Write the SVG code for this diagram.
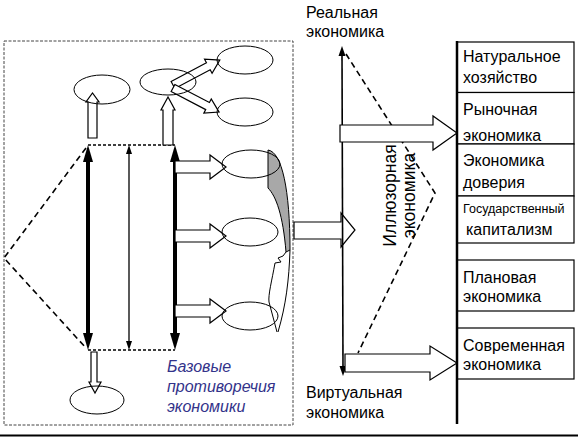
<svg xmlns="http://www.w3.org/2000/svg" width="581" height="437" viewBox="0 0 581 437">
<style>
text{font-family:"Liberation Sans",Arial,sans-serif;fill:#000;}
.t16{font-size:16px;}
.ell{fill:none;stroke:#000;stroke-width:1;}
.blk{fill:#fff;stroke:#000;stroke-width:1.2;stroke-linejoin:miter;}
.dash{fill:none;stroke:#000;stroke-width:1.6;stroke-dasharray:6,4;}
.sdash{fill:none;stroke:#000;stroke-width:1.4;stroke-dasharray:3,2;}
.box{fill:#fff;stroke:#000;stroke-width:1.2;}
.thick{stroke:#000;stroke-width:4;}
.head{fill:#000;}
</style>
<rect width="581" height="437" fill="#fff"/>
<!-- dotted frame -->
<rect id="frame" x="4" y="41" width="289" height="384" fill="none" stroke="#444" stroke-width="1" stroke-dasharray="3,1.5"/>
<g id="connectors">
  <!-- left dashed triangle -->
  <polyline class="dash" points="86,148 4,258 86,348"/>
  <!-- dashed horizontals -->
  <line class="sdash" x1="88" y1="145" x2="175" y2="145"/>
  <line class="sdash" x1="88" y1="350" x2="175" y2="350"/>
  <!-- thick double arrows -->
  <line class="thick" x1="88" y1="158" x2="88" y2="337"/>
  <polygon class="head" points="88,145 83,162 93,162"/>
  <polygon class="head" points="88,350 83,333 93,333"/>
  <line class="thick" x1="175" y1="158" x2="175" y2="337"/>
  <polygon class="head" points="175,145 170,162 180,162"/>
  <polygon class="head" points="175,350 170,333 180,333"/>
  <line x1="129" y1="150" x2="129" y2="345" stroke="#000" stroke-width="1.3"/>
  <polygon class="head" points="129,145 126,154 132,154"/>
  <polygon class="head" points="129,350 126,341 132,341"/>
  <!-- hollow block arrows -->
  <polygon class="blk" points="88,138 88,102 86,102 92.5,93 99,102 97,102 97,138"/>
  <polygon class="blk" points="163,145 163,110 161,110 168,97 175,110 173,110 173,145"/>
  <polygon class="blk" points="91,352 91,382 89,382 95,393 101,382 97,382 97,352"/>
  <polygon class="blk" transform="translate(173,85) rotate(-28)" points="0,-4 40,-4 40,-8 53,0 40,8 40,4 0,4"/>
  <polygon class="blk" transform="translate(173,88) rotate(27.6)" points="0,-4 39,-4 39,-8 52,0 39,8 39,4 0,4"/>
  <polygon class="blk" points="175,161 210,161 210,155 226,167 210,179 210,173 175,173"/>
  <polygon class="blk" points="175,230 210,230 210,224 226,236 210,248 210,242 175,242"/>
  <polygon class="blk" points="175,305 210,305 210,299 226,311 210,323 210,317 175,317"/>
  <!-- curved brace shape -->
  <path d="M268,150 C282,152 290,190 290,250 L286,252 C283,215 276,196 268,188 Z" fill="#a8a8a8" stroke="#000" stroke-width="1"/>
  <path d="M290,250 C289,280 286,305 278,332" fill="none" stroke="#000" stroke-width="1"/>
  <path d="M286,252 L283,256 L278,258 L281,262 L275,263 C272,280 268,295 269,302 L277,332" fill="none" stroke="#000" stroke-width="1"/>
  <!-- big arrow out of frame -->
  <polygon class="blk" points="294,222 341,222 341,213 355,230 341,247 341,239 294,239"/>
  <!-- real-virtual axis -->
  <line x1="342" y1="54" x2="343" y2="368" stroke="#000" stroke-width="1.6"/>
  <polygon class="head" points="342,46 338.5,56 345.5,56"/>
  <polygon class="head" points="343,376 339.5,366 346.5,366"/>
  <polyline class="dash" points="346,54 435,193 358,353"/>
  <polygon class="blk" points="340,125 433,125 433,116 457,133 433,150 433,142 340,142"/>
  <polygon class="blk" points="345,354 430,354 430,346 457,363 430,380 430,372 345,372"/>
</g>
<!-- ellipses -->
<g id="e1"><ellipse class="ell" cx="102" cy="89.5" rx="28" ry="14.5"/></g>
<g id="e2"><ellipse class="ell" cx="168" cy="82" rx="28" ry="13"/></g>
<g id="e3"><ellipse class="ell" cx="245" cy="60" rx="28" ry="14"/></g>
<g id="e4"><ellipse class="ell" cx="245" cy="112" rx="28" ry="14"/></g>
<g id="e5"><ellipse class="ell" cx="251" cy="164" rx="29" ry="14"/></g>
<g id="e6"><ellipse class="ell" cx="250" cy="232" rx="28" ry="14"/></g>
<g id="e7"><ellipse class="ell" cx="250" cy="316" rx="28" ry="14"/></g>
<g id="e8"><ellipse class="ell" cx="97" cy="400" rx="27" ry="14"/></g>
<!-- labels -->
<g id="base-label">
  <text x="167" y="372" font-size="16" font-style="italic" style="fill:#33338a">Базовые</text>
  <text x="167" y="392" font-size="16" font-style="italic" style="fill:#33338a">противоречия</text>
  <text x="167" y="412" font-size="16" font-style="italic" style="fill:#33338a">экономики</text>
</g>
<g id="real">
  <text class="t16" x="306" y="18">Реальная</text>
  <text class="t16" x="306" y="37">экономика</text>
</g>
<g id="virtual">
  <text class="t16" x="306" y="398">Виртуальная</text>
  <text class="t16" x="306" y="418">экономика</text>
</g>
<g id="illusory" transform="rotate(-90)">
  <text x="-195.5" y="396" font-size="17.5" text-anchor="middle">Иллюзорная</text>
  <text x="-195.5" y="415" font-size="17.5" text-anchor="middle">экономика</text>
</g>
<!-- right column -->
<g id="b1"><rect class="box" x="457" y="42" width="117" height="50.5"/>
  <text class="t16" x="463" y="62">Натуральное</text><text class="t16" x="463" y="83">хозяйство</text></g>
<g id="b2"><rect class="box" x="457" y="92.5" width="117" height="51.5"/>
  <text class="t16" x="463" y="115">Рыночная</text><text class="t16" x="463" y="141">экономика</text></g>
<g id="b3"><rect class="box" x="457" y="144" width="117" height="52"/>
  <text class="t16" x="463" y="166">Экономика</text><text class="t16" x="463" y="188">доверия</text></g>
<g id="b4"><rect class="box" x="457" y="196" width="117" height="47"/>
  <text x="463" y="213" font-size="12.5">Государственный</text><text class="t16" x="466" y="235">капитализм</text></g>
<g id="b5"><rect class="box" x="457" y="260" width="117" height="51"/>
  <text class="t16" x="463" y="283">Плановая</text><text class="t16" x="463" y="302">экономика</text></g>
<g id="b6"><rect class="box" x="457" y="328" width="117" height="51"/>
  <text class="t16" x="463" y="351">Современная</text><text class="t16" x="463" y="370">экономика</text></g>
<line x1="457" y1="41" x2="457" y2="424" stroke="#000" stroke-width="2.5"/>
<line x1="0" y1="435.5" x2="578" y2="435.5" stroke="#000" stroke-width="2"/>
</svg>
